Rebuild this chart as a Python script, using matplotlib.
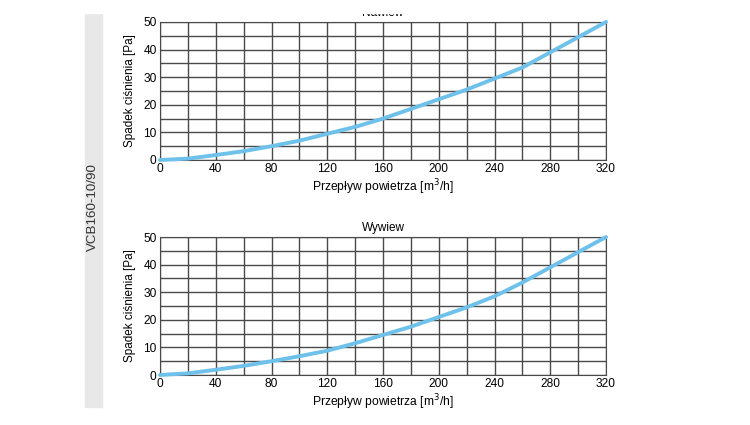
import matplotlib
matplotlib.use('Agg')
import matplotlib.pyplot as plt
from matplotlib.patches import Rectangle

plt.rcParams['font.family'] = ['Liberation Sans', 'DejaVu Sans']
plt.rcParams['font.size'] = 8.5

# Airflow [m3/h]
flow = [0, 20, 40, 60, 80, 100, 120, 140, 160, 180, 200, 220, 240, 260, 280, 300, 320]
# Pressure drop [Pa]
supply_dp = [0, 0.5, 1.8, 3.2, 5, 7, 9.5, 12, 15, 18.5, 22, 25.5, 29.5, 33.5, 39, 44.5, 50]
exhaust_dp = [0, 0.6, 1.9, 3.3, 5, 6.8, 8.8, 11.5, 14.5, 17.5, 21, 24.5, 28.5, 33.5, 39, 44.5, 50]

titles = ['Nawiew', 'Wywiew']
series = [supply_dp, exhaust_dp]
x_ticks = list(range(0, 321, 40))
y_ticks = list(range(0, 51, 10))

fig = plt.figure(figsize=(7.5, 4.25), dpi=100)

# grey side bar with model name
fig.patches.append(Rectangle((85 / 750, 1 - 407 / 425), 17 / 750, 393 / 425,
                             transform=fig.transFigure, color='#e8e8e8', zorder=0))
fig.text(93 / 750, 1 - 207 / 425, 'VCB160-10/90', rotation=90, ha='center', va='center',
         fontsize=9.6, color='#333333')

positions = [[160 / 750, 1 - 160 / 425, 446 / 750, 138 / 425],
             [160 / 750, 1 - 375 / 425, 446 / 750, 138 / 425]]

for pos, title, dp in zip(positions, titles, series):
    ax = fig.add_axes(pos)
    ax.plot(flow, dp, color='#6ec1ea', lw=2.8, solid_capstyle='round', zorder=3, clip_on=False)
    ax.set_xlim(0, 320)
    ax.set_ylim(0, 50)
    ax.set_xticks(range(0, 321, 20), minor=True)
    ax.set_yticks(range(0, 51, 5), minor=True)
    ax.set_xticks(x_ticks)
    ax.set_yticks(y_ticks)
    ax.grid(which='both', color='#4a4a4a', lw=1.0)
    ax.tick_params(which='both', length=0, pad=2.5, labelsize=8.6)
    for s in ax.spines.values():
        s.set_color('#4a4a4a')
    ax.set_xlabel('Przepływ powietrza [m$^3$/h]', labelpad=1.5, fontsize=8.7)
    ax.set_ylabel('Spadek ciśnienia [Pa]', labelpad=5, fontsize=8.5)
    ax.set_title(title, fontsize=8.5, pad=4)

# the source image is cropped at the top, hiding most of the first title
fig.patches.append(Rectangle((0, 1 - 13 / 425), 1, 13 / 425,
                             transform=fig.transFigure, color='white', zorder=10))

fig.savefig('out.png', dpi=100)
